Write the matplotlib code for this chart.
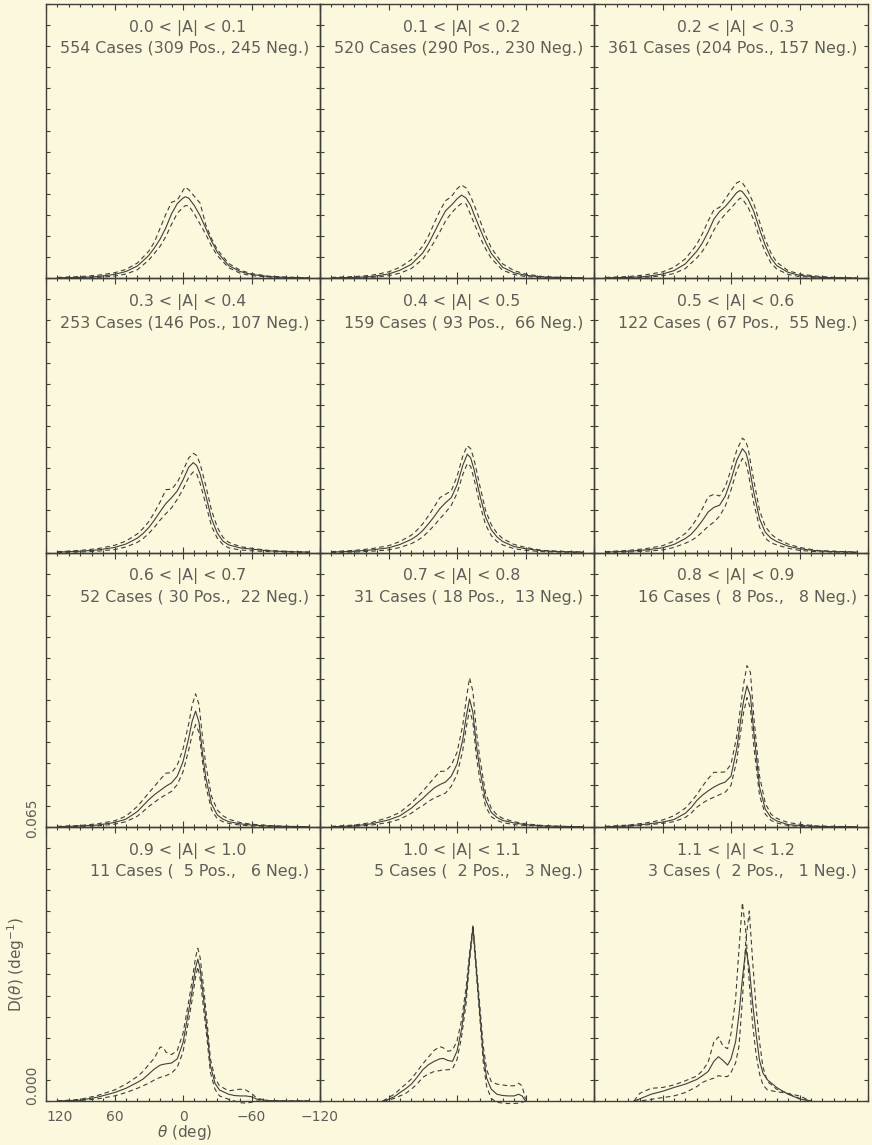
import matplotlib
matplotlib.use("Agg")
import numpy as np
import matplotlib.pyplot as plt
from matplotlib.ticker import FixedLocator, MultipleLocator
from matplotlib.transforms import offset_copy

BG = "#FCF8DE"
INK = "#3f3f3a"
TXT = "#5e5e58"

# |A| bins and the number of cases in each
A_EDGES = [0.0, 0.1, 0.2, 0.3, 0.4, 0.5, 0.6, 0.7, 0.8, 0.9, 1.0, 1.1, 1.2]
N_TOTAL = [554, 520, 361, 253, 159, 122, 52, 31, 16, 11, 5, 3]
N_POS = [309, 290, 204, 146, 93, 67, 30, 18, 8, 5, 2, 2]
N_NEG = [245, 230, 157, 107, 66, 55, 22, 13, 8, 6, 3, 1]

X_MAJOR = [120, 60, 0, -60, -120]
Y_LABELS = [0.000, 0.065]

# D(theta) samples, in units of 1e-3 deg^-1: mean curve (solid) and the
# two bounding curves (dashed) for every |A| bin
TH_01 = [110, 90, 75, 60, 50, 40, 30, 25, 20, 15, 10, 5, 0, -2, -5, -10, -15, -20, -25, -30, -40, -50, -60, -75, -90, -110]
MEAN_01 = [0.1, 0.2, 0.4, 0.9, 1.6, 2.9, 5.4, 7.2, 9.3, 12.0, 15.3, 17.7, 19.0, 19.3, 19.0, 17.2, 14.8, 11.8, 8.8, 6.2, 3.0, 1.6, 0.9, 0.4, 0.2, 0.1]
HI_01 = [0.2, 0.4, 0.7, 1.3, 2.1, 3.6, 6.4, 8.6, 11.9, 15.2, 18.0, 18.5, 20.8, 21.6, 21.0, 19.4, 17.8, 12.6, 9.4, 6.8, 3.5, 1.9, 1.1, 0.5, 0.3, 0.1]
LO_01 = [0.0, 0.1, 0.2, 0.5, 1.0, 2.0, 4.3, 5.9, 7.6, 9.9, 12.8, 15.4, 16.8, 17.2, 17.2, 15.2, 12.8, 10.4, 7.6, 5.4, 2.5, 1.2, 0.6, 0.3, 0.1, 0.0]

TH_02 = [110, 90, 75, 60, 50, 40, 30, 25, 20, 15, 10, 5, 0, -4, -8, -12, -16, -20, -25, -30, -40, -50, -60, -75, -90, -110]
MEAN_02 = [0.1, 0.2, 0.4, 1.0, 1.9, 3.3, 6.0, 8.2, 10.8, 13.5, 16.0, 17.3, 18.8, 19.7, 19.0, 17.2, 14.4, 11.8, 8.6, 5.9, 2.6, 1.3, 0.7, 0.3, 0.2, 0.1]
HI_02 = [0.2, 0.4, 0.7, 1.5, 2.6, 4.4, 7.6, 10.0, 13.0, 16.0, 18.4, 19.3, 21.2, 22.1, 21.4, 19.4, 16.7, 13.8, 10.2, 7.2, 3.4, 1.8, 1.0, 0.4, 0.2, 0.1]
LO_02 = [0.0, 0.1, 0.2, 0.6, 1.2, 2.3, 4.5, 6.4, 8.6, 11.0, 13.6, 15.4, 16.9, 17.7, 17.6, 15.0, 12.4, 9.8, 7.0, 4.7, 1.9, 0.9, 0.4, 0.2, 0.1, 0.0]

TH_03 = [110, 90, 75, 60, 50, 40, 30, 25, 20, 15, 10, 5, 0, -5, -8, -10, -15, -20, -25, -30, -35, -40, -50, -60, -75, -90, -110]
MEAN_03 = [0.1, 0.2, 0.4, 1.0, 1.8, 3.4, 6.4, 8.4, 11.0, 14.0, 15.8, 17.0, 18.6, 20.3, 20.8, 20.5, 18.7, 15.8, 11.6, 7.8, 4.8, 3.0, 1.4, 0.7, 0.3, 0.1, 0.0]
HI_03 = [0.2, 0.4, 0.8, 1.5, 2.6, 4.6, 8.0, 10.6, 13.6, 16.2, 16.8, 18.8, 20.8, 22.6, 23.0, 22.6, 20.6, 17.6, 13.4, 9.2, 6.0, 3.8, 1.8, 1.0, 0.5, 0.2, 0.1]
LO_03 = [0.0, 0.1, 0.2, 0.6, 1.1, 2.3, 4.8, 6.4, 8.6, 11.4, 13.6, 15.2, 16.6, 18.2, 19.0, 18.8, 16.8, 13.8, 9.6, 6.2, 3.6, 2.2, 0.9, 0.4, 0.2, 0.1, 0.0]

TH_04 = [110, 90, 75, 60, 50, 40, 35, 30, 25, 20, 15, 10, 5, 0, -5, -9, -12, -15, -20, -25, -30, -35, -40, -50, -60, -75, -90, -110]
MEAN_04 = [0.1, 0.3, 0.6, 1.2, 2.0, 3.4, 4.5, 5.9, 7.7, 9.7, 11.6, 13.0, 14.6, 17.2, 20.2, 21.3, 20.6, 18.6, 13.5, 8.0, 4.6, 2.7, 1.8, 1.1, 0.8, 0.4, 0.2, 0.1]
HI_04 = [0.2, 0.5, 0.9, 1.7, 2.7, 4.4, 5.7, 7.3, 9.5, 12.0, 14.9, 15.0, 16.6, 19.4, 22.4, 23.5, 23.0, 21.0, 15.8, 10.0, 6.0, 3.6, 2.4, 1.4, 1.0, 0.5, 0.3, 0.1]
LO_04 = [0.0, 0.1, 0.3, 0.7, 1.3, 2.4, 3.3, 4.5, 6.0, 7.7, 9.2, 10.6, 12.6, 15.0, 17.8, 19.1, 18.6, 16.4, 11.4, 6.2, 3.4, 1.9, 1.1, 0.6, 0.4, 0.2, 0.1, 0.0]

TH_05 = [110, 90, 75, 60, 50, 40, 35, 30, 25, 20, 15, 10, 5, 0, -5, -9, -12, -15, -20, -25, -30, -35, -40, -50, -60, -75, -90, -110]
MEAN_05 = [0.1, 0.3, 0.6, 1.1, 1.9, 3.1, 4.0, 5.2, 6.8, 8.5, 10.4, 11.8, 13.0, 16.0, 20.6, 23.3, 22.4, 19.6, 13.6, 8.4, 5.4, 3.7, 2.6, 1.4, 0.9, 0.4, 0.2, 0.1]
HI_05 = [0.2, 0.5, 0.9, 1.6, 2.6, 4.1, 5.3, 6.8, 8.7, 10.8, 13.0, 13.8, 14.6, 18.0, 22.8, 25.3, 24.6, 22.0, 15.8, 10.0, 6.6, 4.6, 3.3, 1.9, 1.2, 0.5, 0.3, 0.1]
LO_05 = [0.0, 0.1, 0.3, 0.6, 1.2, 2.1, 2.8, 3.7, 5.0, 6.4, 8.0, 9.5, 11.2, 14.0, 18.4, 21.1, 20.4, 17.4, 11.4, 6.6, 4.0, 2.6, 1.8, 0.9, 0.5, 0.2, 0.1, 0.0]

TH_06 = [110, 90, 75, 60, 50, 40, 35, 30, 25, 20, 15, 10, 5, 0, -5, -10, -13, -15, -20, -25, -30, -35, -40, -50, -60, -75, -90, -110]
MEAN_06 = [0.1, 0.3, 0.6, 1.1, 1.9, 3.3, 4.3, 5.8, 7.6, 9.6, 10.7, 11.2, 13.4, 17.2, 21.8, 24.6, 23.6, 21.8, 14.2, 8.0, 4.8, 3.4, 2.6, 1.5, 0.9, 0.4, 0.2, 0.1]
HI_06 = [0.2, 0.5, 0.9, 1.6, 2.7, 4.5, 6.0, 8.0, 10.4, 13.2, 13.8, 13.4, 15.6, 19.6, 24.2, 27.1, 26.4, 24.6, 17.0, 10.0, 6.2, 4.4, 3.3, 2.0, 1.2, 0.5, 0.3, 0.1]
LO_06 = [0.0, 0.1, 0.3, 0.6, 1.2, 2.2, 2.8, 3.7, 4.9, 6.2, 7.2, 8.6, 11.0, 14.8, 19.4, 22.3, 21.2, 19.0, 11.6, 6.0, 3.4, 2.3, 1.8, 1.0, 0.5, 0.2, 0.1, 0.0]

TH_07 = [110, 90, 75, 60, 50, 40, 35, 30, 25, 20, 15, 10, 5, 0, -5, -8, -11, -14, -17, -20, -25, -30, -35, -40, -50, -60, -75, -90, -110]
MEAN_07 = [0.0, 0.2, 0.4, 1.0, 1.8, 3.6, 5.0, 6.4, 7.6, 8.6, 9.6, 10.4, 12.0, 15.4, 21.0, 25.0, 27.4, 24.8, 17.6, 11.6, 5.4, 2.8, 1.8, 1.2, 0.7, 0.4, 0.2, 0.1, 0.0]
HI_07 = [0.1, 0.3, 0.7, 1.4, 2.5, 4.8, 6.4, 8.0, 9.6, 11.2, 12.7, 12.8, 14.6, 18.4, 24.4, 28.8, 31.5, 29.0, 21.4, 14.6, 7.2, 4.0, 2.6, 1.8, 1.0, 0.6, 0.3, 0.1, 0.0]
LO_07 = [0.0, 0.1, 0.2, 0.6, 1.2, 2.5, 3.6, 4.8, 5.8, 6.8, 7.6, 8.4, 10.0, 13.0, 18.2, 21.8, 24.2, 22.4, 15.6, 9.6, 4.0, 1.9, 1.2, 0.8, 0.4, 0.2, 0.1, 0.0, 0.0]

TH_08 = [110, 90, 75, 60, 50, 40, 35, 30, 25, 20, 15, 10, 5, 0, -5, -8, -11, -14, -17, -20, -25, -30, -35, -40, -50, -60, -75, -90, -110]
MEAN_08 = [0.0, 0.2, 0.7, 1.6, 2.6, 4.4, 5.6, 6.7, 8.0, 9.2, 10.0, 10.6, 12.0, 14.8, 20.6, 26.0, 30.3, 27.0, 19.2, 13.6, 6.4, 3.4, 2.2, 1.5, 0.9, 0.5, 0.2, 0.1, 0.0]
HI_08 = [0.1, 0.4, 1.0, 2.2, 3.4, 5.6, 7.0, 8.4, 10.0, 11.6, 13.1, 13.2, 14.6, 17.6, 24.0, 30.0, 35.3, 32.0, 22.6, 16.2, 8.0, 4.4, 2.8, 2.0, 1.2, 0.7, 0.3, 0.1, 0.0]
LO_08 = [0.0, 0.1, 0.4, 1.0, 1.8, 3.2, 4.2, 5.0, 6.0, 6.8, 7.4, 8.0, 9.6, 12.4, 18.0, 23.4, 27.8, 24.6, 16.6, 11.2, 4.8, 2.4, 1.5, 1.0, 0.5, 0.3, 0.1, 0.0, 0.0]

TH_09 = [110, 90, 75, 60, 50, 40, 35, 30, 25, 20, 15, 10, 5, 0, -5, -8, -11, -14, -17, -20, -25, -30, -35, -40, -50, -60, -75, -90, -110]
MEAN_09 = [0.0, 0.2, 0.6, 1.1, 1.7, 3.2, 4.5, 6.2, 7.5, 8.5, 9.4, 10.1, 10.6, 12.0, 18.4, 24.4, 29.8, 33.4, 31.0, 22.4, 9.4, 4.2, 2.2, 1.4, 0.5, 0.3, 0.1, 0.0, 0.0]
HI_09 = [0.1, 0.4, 0.9, 1.6, 2.6, 4.4, 5.9, 7.6, 9.6, 11.4, 12.9, 12.9, 13.0, 14.8, 21.4, 27.6, 33.8, 38.2, 36.6, 26.0, 12.0, 5.6, 3.0, 2.0, 1.0, 0.6, 0.2, 0.1, 0.0]
LO_09 = [0.0, 0.1, 0.4, 0.8, 1.2, 2.2, 3.2, 4.6, 5.6, 6.4, 7.0, 7.6, 8.2, 9.8, 15.6, 21.6, 27.0, 30.6, 28.0, 19.0, 7.4, 3.0, 1.5, 0.9, 0.3, 0.1, 0.0, 0.0, 0.0]

TH_10 = [110, 90, 75, 60, 50, 40, 35, 30, 25, 20, 17, 15, 10, 5, 0, -5, -8, -11, -13, -15, -18, -21, -24, -28, -32, -40, -45, -50, -55, -60, -65, -75, -90, -110]
MEAN_10 = [0.0, 0.2, 0.9, 2.0, 3.0, 4.4, 5.2, 6.4, 7.6, 8.5, 8.7, 8.8, 9.0, 10.0, 13.8, 21.4, 26.2, 31.6, 33.6, 31.4, 24.4, 16.8, 8.4, 4.2, 2.6, 1.6, 1.3, 1.2, 1.2, 1.0, 0.4, 0.1, 0.0, 0.0]
HI_10 = [0.0, 0.4, 1.3, 2.6, 4.0, 5.8, 7.0, 8.6, 10.2, 12.8, 12.6, 11.6, 11.0, 12.0, 16.0, 23.6, 28.6, 34.0, 36.2, 34.0, 27.0, 19.0, 10.0, 5.4, 3.6, 2.4, 2.6, 2.8, 2.6, 1.8, 0.6, 0.1, 0.0, 0.0]
LO_10 = [0.0, 0.1, 0.5, 1.2, 2.0, 3.0, 3.6, 4.2, 5.0, 5.6, 5.8, 6.0, 6.6, 8.0, 11.6, 19.2, 24.0, 29.4, 31.8, 29.0, 22.0, 14.8, 6.8, 2.8, 1.2, 0.4, 0.0, -0.4, -0.5, -0.3, 0.0, 0.0, 0.0, 0.0]

TH_11 = [65, 60, 55, 50, 45, 40, 35, 30, 25, 20, 15, 12, 8, 4, 0, -4, -8, -11, -14, -17, -20, -23, -26, -30, -35, -40, -45, -50, -54, -57, -60]
MEAN_11 = [0.0, 0.4, 1.0, 2.0, 2.9, 4.0, 5.6, 7.4, 8.6, 9.4, 10.0, 10.1, 9.6, 9.4, 11.8, 17.0, 25.0, 34.0, 41.3, 31.0, 21.0, 11.0, 5.4, 2.8, 1.6, 1.3, 1.2, 1.2, 1.6, 1.2, 0.0]
HI_11 = [0.0, 0.8, 1.6, 2.8, 4.0, 5.2, 7.0, 8.8, 10.4, 12.0, 12.9, 12.6, 11.8, 12.0, 14.2, 19.2, 27.0, 35.0, 41.8, 32.0, 22.6, 13.0, 7.4, 4.6, 4.0, 3.8, 3.6, 3.6, 4.2, 3.6, 0.4]
LO_11 = [0.0, 0.2, 0.6, 1.2, 1.8, 2.8, 4.0, 5.6, 6.4, 7.0, 7.2, 7.4, 7.4, 7.6, 9.8, 15.2, 23.2, 33.0, 40.8, 30.0, 19.6, 9.2, 3.4, 0.6, -0.3, -0.5, -0.6, -0.6, -0.5, -0.3, 0.0]

TH_12 = [85, 80, 70, 60, 50, 40, 30, 25, 20, 15, 11, 7, 3, 0, -4, -7, -10, -13, -16, -19, -22, -25, -28, -32, -40, -50, -60, -70]
MEAN_12 = [0.0, 0.5, 1.6, 2.3, 3.2, 4.0, 5.1, 6.0, 7.0, 9.4, 10.5, 9.6, 8.5, 10.0, 14.0, 20.5, 29.0, 36.2, 31.6, 23.0, 15.8, 9.6, 6.6, 5.0, 3.2, 1.6, 0.5, 0.0]
HI_12 = [0.0, 1.8, 3.0, 3.2, 3.8, 4.8, 5.9, 7.2, 9.2, 14.0, 15.2, 13.0, 12.4, 16.0, 24.0, 36.0, 47.0, 40.0, 28.0, 18.0, 11.0, 6.4, 3.8, 2.6, 2.2, 1.8, 1.2, 0.0]
LO_12 = [0.0, 0.0, 0.4, 0.8, 1.2, 2.0, 3.4, 4.4, 5.0, 5.4, 6.0, 5.8, 5.8, 6.8, 9.0, 13.0, 24.0, 38.0, 45.0, 33.0, 22.0, 14.0, 8.0, 4.6, 2.8, 1.8, 0.6, 0.0]

PANELS = [
    (TH_01, MEAN_01, HI_01, LO_01), (TH_02, MEAN_02, HI_02, LO_02), (TH_03, MEAN_03, HI_03, LO_03),
    (TH_04, MEAN_04, HI_04, LO_04), (TH_05, MEAN_05, HI_05, LO_05), (TH_06, MEAN_06, HI_06, LO_06),
    (TH_07, MEAN_07, HI_07, LO_07), (TH_08, MEAN_08, HI_08, LO_08), (TH_09, MEAN_09, HI_09, LO_09),
    (TH_10, MEAN_10, HI_10, LO_10), (TH_11, MEAN_11, HI_11, LO_11), (TH_12, MEAN_12, HI_12, LO_12),
]
D_UNIT = 1e-3

W, H = 872, 1145
LEFT, PW = 46, 274.0
TOP, PH = 4, 274.25

plt.rcParams["font.family"] = ["DejaVu Sans"]
fig = plt.figure(figsize=(W / 100, H / 100), dpi=100, facecolor=BG)

for i, (th, mean, hi, lo) in enumerate(PANELS):
    r, c = divmod(i, 3)
    x0 = LEFT + c * PW
    ytop = TOP + r * PH
    ax = fig.add_axes([x0 / W, 1 - (ytop + PH) / H, PW / W, PH / H])
    ax.patch.set_visible(False)
    ax.set_xlim(120, -120)
    ax.set_ylim(0, 0.065)

    for sp in ax.spines.values():
        sp.set_color(INK)
        sp.set_linewidth(1.0)

    ax.xaxis.set_major_locator(FixedLocator(X_MAJOR))
    ax.xaxis.set_minor_locator(MultipleLocator(10))
    ax.yaxis.set_major_locator(MultipleLocator(0.005))
    ax.tick_params(axis="x", which="major", direction="in", length=4.6, width=0.8,
                   top=True, bottom=True, color=INK)
    ax.tick_params(axis="x", which="minor", direction="in", length=2.3, width=0.8,
                   top=True, bottom=True, color=INK)
    ax.tick_params(axis="y", which="major", direction="in", length=3.0, width=0.8,
                   left=True, right=True, color=INK)
    ax.tick_params(labelbottom=False, labelleft=False)

    t = np.asarray(th, dtype=float)
    ax.plot(t, np.asarray(mean) * D_UNIT, color=INK, lw=0.8, clip_on=False)
    ax.plot(t, np.asarray(hi) * D_UNIT, color=INK, lw=0.8, dashes=(4.2, 3.0), clip_on=False)
    ax.plot(t, np.asarray(lo) * D_UNIT, color=INK, lw=0.8, dashes=(4.2, 3.0), clip_on=False)

    line1 = f"{A_EDGES[i]:.1f} < |A| < {A_EDGES[i + 1]:.1f}"
    line2 = f"{N_TOTAL[i]:d} Cases ({N_POS[i]:3d} Pos., {N_NEG[i]:3d} Neg.)"
    ax.text(0.518, 1 - 24 / PH, line1, transform=ax.transAxes, ha="center", va="center",
            fontsize=11.3, color=TXT, clip_on=False, zorder=5)
    ax.text(1 - 11 / PW, 1 - 45 / PH, line2, transform=ax.transAxes, ha="right", va="center",
            fontsize=11.4, color=TXT, clip_on=False, zorder=5)

    if i == 9:
        ax.tick_params(axis="x", which="major", labelbottom=True, pad=6.5,
                       labelsize=10, labelcolor=TXT)
        labels = ax.get_xticklabels()
        labels[0].set_horizontalalignment("left")
        for val, dy in zip(Y_LABELS, (11, 6)):
            tr = offset_copy(ax.get_yaxis_transform(), fig=fig, x=-10, y=dy, units="points")
            ax.text(0, val, f"{val:.3f}", transform=tr, rotation=90, ha="center",
                    va="center", fontsize=10, color=TXT)

fig.text(185 / W, 1 - 1133 / H, r"$\theta$ (deg)", ha="center", va="center",
         fontsize=11, color=TXT)
fig.text(16 / W, 1 - 964 / H, r"D($\theta$) (deg$^{-1}$)", ha="center", va="center",
         rotation=90, fontsize=11, color=TXT)

fig.savefig("out.png", dpi=100, facecolor=BG)
